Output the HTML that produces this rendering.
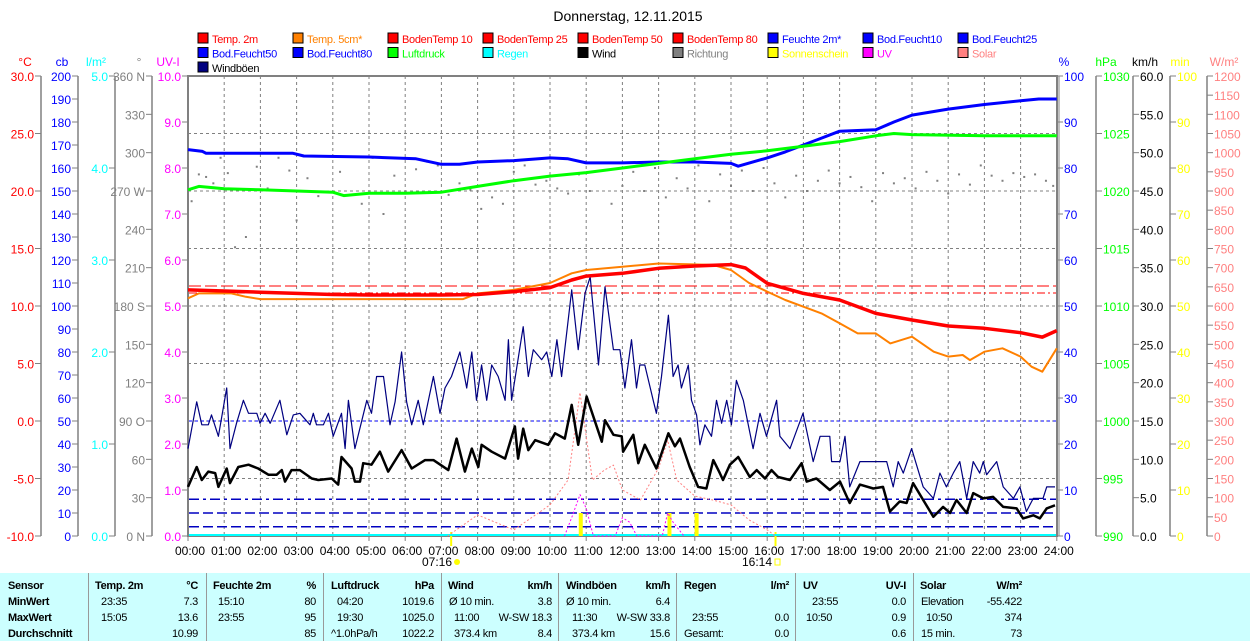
<!DOCTYPE html>
<html><head><meta charset="utf-8">
<style>
html,body{margin:0;padding:0;background:#fff;}
body{width:1250px;height:641px;overflow:hidden;position:relative;font-family:"Liberation Sans",sans-serif;}
svg{position:absolute;left:0;top:0;}
#tbl{position:absolute;left:0;top:573px;width:1250px;height:68px;background:#ccffff;font-size:11px;letter-spacing:-0.3px;color:#000;}
#tbl div{position:absolute;white-space:nowrap;}
.sep{width:1px;height:68px;top:0;background:#999;}
.b{font-weight:bold;}
</style></head>
<body>
<svg id="chart" width="1250" height="573" viewBox="0 0 1250 573" font-family="Liberation Sans, sans-serif"></svg>
<div id="tbl"></div>
<script>
// ---- data (hours, values) ----
const temp2mT=[0,1,2,3,4,5,6,7,8,9,10,10.6,11,12,13,14,15,15.4,16,17,18,19,20,21,22,23,23.6,24];
const temp2mV=[11.4,11.3,11.2,11.1,11.0,10.96,10.96,10.96,11.0,11.25,11.6,12.26,12.6,12.84,13.28,13.48,13.6,13.3,11.97,11.1,10.52,9.36,8.78,8.26,8.06,7.68,7.3,7.86];
const temp5cmT=[0,0.3,1.2,1.6,2,7.6,8,9,10,10.6,11,12,13,14.5,15,15.5,16,16.5,17,17.5,18,18.5,19,19.4,20,20.6,21,21.4,21.6,22,22.5,23,23.3,23.6,24];
const temp5cmV=[10.67,11.1,11.1,10.8,10.6,10.6,11.1,11.4,12.0,12.84,13.13,13.42,13.7,13.57,13.13,12.0,11.25,10.52,9.94,9.36,8.5,7.62,7.62,6.75,7.33,6.03,5.6,5.74,5.3,6.03,6.32,5.6,4.72,4.29,6.32];
const humT=[0,0.4,0.5,2.9,3.2,5,6.3,7,7.5,8,9,10,10.5,11,12,13,14,15,15.2,16,16.5,17,17.5,18,19,19.5,20,21,22,23,23.5,24];
const humV=[84,83.6,83.2,83.2,82.6,82.4,82.0,80.8,80.8,81.3,81.6,82.2,82.0,81.1,81.1,81.3,81.3,81.0,80.4,82.2,83.5,85,86.5,88.0,88.3,90,91.5,92.8,93.8,94.6,95,95];
const presT=[0,0.3,1,2,3,4,4.3,5,6,7,8,9,10,11,12,13,14,15,16,17,18,19,19.5,20,22,24];
const presV=[1020.1,1020.4,1020.2,1020.1,1020.0,1019.9,1019.6,1019.8,1019.8,1019.9,1020.4,1020.9,1021.3,1021.6,1022.0,1022.4,1022.8,1023.2,1023.5,1023.9,1024.3,1024.8,1025.0,1024.9,1024.8,1024.8];
const windT=[0,0.24,0.38,0.56,0.75,0.84,1.07,1.16,1.39,1.67,1.94,2.22,2.45,2.59,2.68,2.86,3.09,3.42,3.6,3.97,4.15,4.24,4.52,4.61,4.75,4.84,5.07,5.3,5.53,5.9,6.18,6.55,6.78,7.19,7.42,7.65,7.84,8.02,8.11,8.39,8.76,9.03,9.12,9.26,9.4,9.59,9.95,10.14,10.41,10.6,10.78,11.01,11.43,11.52,11.75,11.98,12.02,12.3,12.44,12.62,12.94,13.27,13.45,13.59,13.86,14.09,14.32,14.51,14.69,14.78,14.97,15.2,15.52,15.71,15.94,16.12,16.3,16.63,16.95,17.09,17.36,17.73,18.01,18.28,18.56,18.93,19.2,19.39,19.66,19.85,20.03,20.31,20.59,20.86,21.05,21.23,21.51,21.69,21.97,22.24,22.52,22.89,23.07,23.35,23.53,23.72,23.95];
const windV=[6.4,9.0,7.3,8.4,8.2,6.4,8.8,6.9,9.0,9.3,8.8,8.0,8.0,8.6,7.1,8.6,8.6,7.5,7.3,7.5,6.7,10.3,8.8,7.1,7.1,9.5,9.3,11.0,8.4,11.2,8.8,9.9,9.9,8.6,12.7,8.4,11.4,9.0,11.9,11.0,10.1,14.3,10.1,14.0,11.2,12.5,11.9,13.4,12.7,17.1,11.9,18.2,12.3,15.1,13.2,13.0,11.0,13.2,9.5,11.9,8.8,13.4,11.7,12.7,9.0,6.4,6.2,9.9,8.2,7.3,9.3,10.3,7.7,8.6,7.5,8.6,7.7,7.3,9.5,7.1,7.5,6.0,7.1,4.3,6.7,6.2,6.4,3.2,4.5,4.3,6.9,4.7,2.5,3.8,3.0,4.7,3.0,5.6,4.9,5.1,3.8,3.6,2.3,2.7,2.3,3.6,4.0];
const gustT=[0,0.24,0.38,0.56,0.65,0.84,1.07,1.16,1.34,1.53,1.67,1.9,1.99,2.13,2.27,2.54,2.73,2.91,3.09,3.37,3.46,3.55,3.74,3.88,4.01,4.24,4.34,4.43,4.61,4.94,5.07,5.21,5.4,5.58,5.72,5.9,6.04,6.18,6.36,6.5,6.78,6.96,7.1,7.28,7.51,7.7,7.84,7.97,8.11,8.25,8.39,8.57,8.76,8.85,8.94,9.26,9.4,9.54,9.77,9.91,10.05,10.19,10.32,10.6,10.78,10.97,11.11,11.34,11.52,11.75,11.93,12.07,12.25,12.39,12.48,12.62,12.85,12.94,13.08,13.27,13.4,13.54,13.63,13.82,13.91,14.05,14.14,14.28,14.46,14.6,14.74,14.88,15.01,15.15,15.34,15.61,15.8,15.98,16.26,16.35,16.63,16.99,17.27,17.46,17.73,17.78,18.01,18.15,18.28,18.56,19.3,19.48,19.62,19.76,19.99,20.31,20.59,20.77,20.95,21.14,21.32,21.51,21.69,21.87,21.97,22.06,22.34,22.52,22.8,22.98,23.16,23.35,23.62,23.72,23.95];
const gustV=[11.4,17.5,14.5,14.5,15.8,13.0,19.3,11.4,14.7,17.7,16.0,16.0,14.7,16.0,14.7,17.7,13.2,15.8,16.0,14.5,16.0,14.5,14.5,16.0,13.0,16.0,11.4,17.7,11.4,17.7,16.0,20.8,20.8,14.5,17.5,24.0,17.5,14.5,17.7,14.5,20.8,16.0,19.3,20.8,24.0,19.3,24.0,17.7,22.3,17.7,22.3,20.8,17.7,25.6,17.7,27.3,20.8,24.3,23.0,24.0,20.8,25.6,20.8,32.1,24.3,31.7,33.8,22.3,32.5,24.3,24.3,19.3,25.6,19.3,22.3,22.3,17.7,16.0,20.8,28.8,20.8,22.3,19.3,22.3,17.7,15.8,11.9,14.5,13.0,17.7,14.7,17.7,14.5,20.3,17.7,11.4,16.0,13.0,17.7,13.0,11.4,16.0,9.7,13.0,13.0,9.7,9.7,13.0,6.4,9.7,9.7,6.4,9.7,8.2,11.4,6.4,4.9,8.2,6.4,8.2,9.7,4.9,9.7,8.2,9.7,8.0,9.7,6.4,4.9,6.4,3.2,4.9,4.9,6.4,6.4];
const dirT=[0.1,0.3,0.5,0.7,0.9,1.1,1.3,1.6,1.9,2.2,2.5,2.8,3.0,3.3,3.6,3.9,4.2,4.5,4.8,5.1,5.4,5.7,6.0,6.3,6.6,6.9,7.2,7.5,7.8,8.1,8.4,8.7,9.0,9.3,9.6,9.9,10.2,10.5,10.8,11.1,11.4,11.7,12.0,12.3,12.6,12.9,13.2,13.5,13.8,14.1,14.4,14.7,15.0,15.3,15.6,15.9,16.2,16.5,16.8,17.1,17.4,17.7,18.0,18.3,18.6,18.9,19.2,19.5,19.8,20.1,20.4,20.7,21.0,21.3,21.6,21.9,22.2,22.5,22.8,23.1,23.4,23.7,23.9];
const dirV=[262,283,281,276,296,284,226,234,289,272,296,286,247,280,266,269,285,267,260,296,252,282,269,287,293,290,267,276,271,256,265,260,285,290,275,278,272,268,283,270,292,260,274,285,270,288,265,280,272,290,262,283,274,286,270,288,276,265,282,270,278,286,276,281,273,262,284,276,280,272,285,278,268,283,275,290,282,278,284,281,283,278,274];
const solarT=[7.17,8,9,10,10.5,10.83,11.17,11.5,11.75,12,12.5,13,13.25,13.5,14,14.5,15,15.5,16,16.23];
const solarV=[0,55,16,81,146,374,146,172,185,120,94,177,250,146,104,94,81,42,16,0];
const uvT=[10.4,10.6,10.83,11.0,11.2,11.8,12.0,12.2,12.4,13.1,13.25,13.4,13.7];
const uvV=[0,0.4,0.9,0.6,0,0,0.4,0.3,0,0,0.5,0.3,0];
const sunT=[10.85,13.3,14.05];
const sunV=[5,5,5];
const soilTempLevels=[11.74,11.13];
const soilMoistLevels=[50,16,10,4];

// ---- scales ----
const X=t=>188+t*36.2;
const yT=v=>76+(30-v)*11.5;
const yH=v=>76+(100-v)*4.6;
const yP=v=>76+(1030-v)*11.5;
const yW=v=>76+(60-v)*7.6667;
const yD=v=>76+(360-v)*1.2778;
const yS=v=>76+(1200-v)*0.38333;
const yUV=v=>76+(10-v)*46;
const yMin=v=>76+(100-v)*4.6;
const yCb=v=>76+(200-v)*2.3;

const svg=document.getElementById('chart');
const NS='http://www.w3.org/2000/svg';
function mk(tag,attrs,parent){const e=document.createElementNS(NS,tag);for(const k in attrs)e.setAttribute(k,attrs[k]);(parent||svg).appendChild(e);return e;}
function txt(x,y,s,fill,anchor,size,parent){const e=mk('text',{x:x,y:y,fill:fill,'font-size':size||12,'text-anchor':anchor||'start'},parent);e.textContent=s;return e;}

// title
const title=txt(628,21,'Donnerstag, 12.11.2015','#000','middle',14);



// legend
const legend=[
 ['Temp. 2m','#ff0000'],['Temp. 5cm*','#ff8000'],['BodenTemp 10','#ff0000'],['BodenTemp 25','#ff0000'],['BodenTemp 50','#ff0000'],['BodenTemp 80','#ff0000'],['Feuchte 2m*','#0000ff'],['Bod.Feucht10','#0000ff'],['Bod.Feucht25','#0000ff'],
 ['Bod.Feucht50','#0000ff'],['Bod.Feucht80','#0000ff'],['Luftdruck','#00ff00'],['Regen','#00ffff'],['Wind','#000000'],['Richtung','#808080'],['Sonnenschein','#ffff00'],['UV','#ff00ff'],['Solar','#ff8080'],
 ['Windböen','#000080']];
legend.forEach((l,i)=>{
  const col=i%9,row=Math.floor(i/9);
  const g=mk('g',{});
  
  
  const x=198+col*95,y=33+row*14.5;
  mk('rect',{x:x,y:y,width:10,height:10,fill:l[1],stroke:'#000','stroke-width':1},g);
  let tc=l[1]; if(tc==='#000080')tc='#000';
  const t=txt(x+14,y+10,l[0],tc,'start',11,g);
  t.setAttribute('letter-spacing','-0.3');
});

// grid
const grid=mk('g',{});


for(let h=1;h<24;h++) mk('line',{x1:X(h),x2:X(h),y1:76,y2:536,stroke:'#808080','stroke-dasharray':'3,3'},grid);
for(let k=1;k<8;k++) mk('line',{x1:188,x2:1057,y1:76+k*57.5,y2:76+k*57.5,stroke:'#808080','stroke-dasharray':'3,3'},grid);

// frame
const frame=mk('rect',{x:188,y:76,width:869,height:460,fill:'none',stroke:'#808080','stroke-width':2});


mk('line',{x1:1059,x2:1059,y1:76,y2:536,stroke:'#808080','stroke-width':1});

// axes
function axis(name,lx,vals,yf,fmt,color,side,unit,ux){
  const g=mk('g',{});
  
  
  if(lx!==188&&lx!==1057) mk('line',{x1:lx,x2:lx,y1:76,y2:536,stroke:'#808080','stroke-width':1.5},g);
  vals.forEach((v,i)=>{
    const y=yf(v);
    if(side==='L'){mk('line',{x1:lx-6,x2:lx,y1:y,y2:y,stroke:'#808080'},g);txt(lx-7,y+5,fmt(v,i),color,'end',12,g);}
    else{mk('line',{x1:lx,x2:lx+6,y1:y,y2:y,stroke:'#808080'},g);txt(lx+7,y+5,fmt(v,i),color,'start',12,g);}
  });
  txt(ux,66,unit,color,'middle',12,g);
}
const rng=(a,b,s)=>{const r=[];for(let v=a;v>=b-1e-9;v-=s)r.push(+v.toFixed(4));return r;};
axis('celsius-axis',41,rng(30,-10,5),yT,v=>v.toFixed(1),'#ff0000','L','°C',25);
axis('cb-axis',78,rng(200,0,10),yCb,v=>String(v),'#0000ff','L','cb',62);
axis('rain-axis',115,rng(5,0,1),v=>76+(5-v)*92,v=>v.toFixed(1),'#00ffff','L','l/m²',96);
const dirLbl=['360 N','330','300','270 W','240','210','180 S','150','120','90  O','60','30','0  N'];
axis('direction-axis',152,rng(360,0,30),yD,(v,i)=>dirLbl[i],'#808080','L','°',139);
axis('uv-axis',188,rng(10,0,1),yUV,v=>v.toFixed(1),'#ff00ff','L','UV-I',168);
axis('humidity-axis',1057,rng(100,0,10),yH,v=>String(v),'#0000ff','R','%',1064);
axis('pressure-axis',1096,rng(1030,990,5),yP,v=>String(v),'#00ff00','R','hPa',1106);
axis('windspeed-axis',1133,rng(60,0,5),yW,v=>v.toFixed(1),'#000000','R','km/h',1145);
axis('sunshine-axis',1170,rng(100,0,10),yMin,v=>String(v),'#ffff00','R','min',1180);
axis('solar-axis',1207,rng(1200,0,50),yS,v=>String(v),'#ff8080','R','W/m²',1224);

// x axis labels
const xg=mk('g',{});


for(let h=0;h<=24;h++){mk('line',{x1:X(h),x2:X(h),y1:536,y2:541,stroke:'#808080'},xg);txt(X(h)+2,555,(h<10?'0':'')+h+':00','#000','middle',12,xg);}
txt(452,566,'07:16','#000','end',12,xg);
mk('line',{x1:X(7.27),x2:X(7.27),y1:532,y2:546,stroke:'#ffff00','stroke-width':2},xg);
mk('circle',{cx:457,cy:562,r:3,fill:'#ffff00'},xg);
txt(772,566,'16:14','#000','end',12,xg);
mk('line',{x1:X(16.23),x2:X(16.23),y1:532,y2:546,stroke:'#ffff00','stroke-width':2},xg);
mk('rect',{x:775,y:559,width:5,height:6,fill:'none',stroke:'#ffff00'},xg);

function line(name,ts,vs,yf,color,w,dash){
  const pts=ts.map((t,i)=>X(t).toFixed(1)+','+yf(vs[i]).toFixed(1)).join(' ');
  const p=mk('polyline',{points:pts,fill:'none',stroke:color,'stroke-width':w,'stroke-linejoin':'round'});
  if(dash)p.setAttribute('stroke-dasharray',dash);
  
  
  return p;
}
// rain baseline
const rainLine=mk('line',{x1:189,x2:1056,y1:535,y2:535,stroke:'#00ffff','stroke-width':2});


// soil moisture constant lines
const smDash=['10,4','10,4,3,4','10,4','10,4'];
soilMoistLevels.forEach((v,i)=>{
  const l=mk('line',{x1:189,x2:1056,y1:yCb(v),y2:yCb(v),stroke:i===0?'#0000ff':'#0000c0','stroke-width':i===0?1:1.5,'stroke-dasharray':i===0?'3,3':smDash[i]});
  
  
});
// soil temp constant lines
soilTempLevels.forEach((v,i)=>{
  const l=mk('line',{x1:189,x2:1056,y1:yT(v),y2:yT(v),stroke:'#ff0000','stroke-width':1,'stroke-dasharray':i===0?'12,4':'8,3,2,3'});
  
  
});
// direction dots
dirT.forEach((t,i)=>{
  const r=mk('rect',{x:X(t)-1,y:yD(dirV[i])-1,width:2,height:2,fill:'#808080'});
  
  
});
// sunshine bars
sunT.forEach((t,i)=>{
  const r=mk('rect',{x:X(t)-2,y:yMin(sunV[i]),width:4,height:536-yMin(sunV[i]),fill:'#ffff00'});
  
  
});
line('solar-series',solarT,solarV,yS,'#ff8080',1,'2,2');
line('uv-series',uvT,uvV,yUV,'#ff00ff',1,'2,2');
line('humidity-series',humT,humV,yH,'#0000ff',3);
line('pressure-series',presT,presV,yP,'#00ff00',3);
line('gust-series',gustT,gustV,yW,'#000080',1.2);
line('wind-series',windT,windV,yW,'#000000',2.5);
line('temp5cm-series',temp5cmT,temp5cmV,yT,'#ff8000',2);
line('temp2m-series',temp2mT,temp2mV,yT,'#ff0000',3.5);

// ---- table ----
const tbl=document.getElementById('tbl');
function cell(x,y,s,bold,right){
  const d=document.createElement('div');
  
  
  d.textContent=s;
  d.style.top=(y-7)+'px';
  if(right){d.style.right=(1250-x)+'px';}else{d.style.left=x+'px';}
  if(bold)d.className='b';
  tbl.appendChild(d);
}
[88,206,323,441,558,676,795,913].forEach(x=>{const s=document.createElement('div');s.className='sep';s.style.left=x+'px';tbl.appendChild(s);});
const R=[14,30,46,62];
cell(8,R[0],'Sensor',1);cell(8,R[1],'MinWert',1);cell(8,R[2],'MaxWert',1);cell(8,R[3],'Durchschnitt',1);
const heads=[['Temp. 2m','°C',95,198],['Feuchte 2m','%',213,316],['Luftdruck','hPa',331,434],['Wind','km/h',448,552],['Windböen','km/h',566,670],['Regen','l/m²',684,789],['UV','UV-I',803,906],['Solar','W/m²',920,1022]];
heads.forEach(h=>{cell(h[2],R[0],h[0],1);cell(h[3],R[0],h[1],1,1);});
const rows=[
 [['23:35',101],['7.3',198,1],['15:10',218],['80',316,1],['04:20',337],['1019.6',434,1],['Ø 10 min.',449],['3.8',552,1],['Ø 10 min.',566],['6.4',670,1],['23:55',812],['0.0',906,1],['Elevation',921],['-55.422',1022,1]],
 [['15:05',101],['13.6',198,1],['23:55',218],['95',316,1],['19:30',337],['1025.0',434,1],['11:00',454],['W-SW 18.3',552,1],['11:30',572],['W-SW 33.8',670,1],['23:55',692],['0.0',789,1],['10:50',806],['0.9',906,1],['10:50',926],['374',1022,1]],
 [['10.99',198,1],['85',316,1],['^1.0hPa/h',331],['1022.2',434,1],['373.4 km',454],['8.4',552,1],['373.4 km',572],['15.6',670,1],['Gesamt:',684],['0.0',789,1],['0.6',906,1],['15 min.',921],['73',1022,1]]
];
rows.forEach((r,i)=>r.forEach(c=>cell(c[1],R[i+1],c[0],0,c[2])));
</script>
</body></html>
